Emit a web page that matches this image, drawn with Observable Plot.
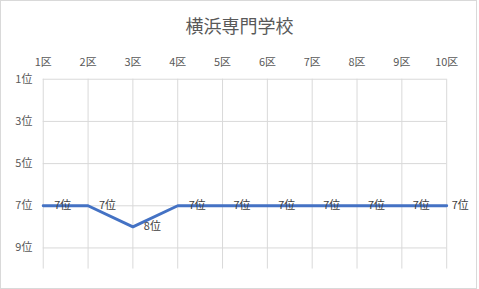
<!DOCTYPE html>
<html>
<head>
<meta charset="utf-8">
<script src="https://cdn.jsdelivr.net/npm/d3@7"></script>
<script src="https://cdn.jsdelivr.net/npm/@observablehq/plot@0.6"></script>
<style>
  html, body { margin: 0; padding: 0; background: #fff; }
  #wrap { position: relative; width: 477px; height: 289px; box-sizing: border-box; border: 1px solid #d9d9d9; overflow: hidden; }
  #title { position: absolute; left: 0; top: 0; width: 477px; height: 40px; line-height: 48px; text-align: center;
           font-family: "Noto Sans CJK JP", sans-serif; font-size: 18px; color: #595959; }
  #chart { position: absolute; left: -1px; top: 38px; }
</style>
</head>
<body>
<div id="wrap"><div id="title">横浜専門学校</div><div id="chart"></div></div>
<script>
const title = "横浜専門学校";
const sections = [1, 2, 3, 4, 5, 6, 7, 8, 9, 10];
const sectionLabels = ["1区", "2区", "3区", "4区", "5区", "6区", "7区", "8区", "9区", "10区"];
const ranks = [7, 7, 8, 7, 7, 7, 7, 7, 7, 7];
const rankTicks = [1, 3, 5, 7, 9];
const rankTickLabels = ["1位", "3位", "5位", "7位", "9位"];

const data = sections.map((s, i) => ({ s, r: ranks[i], label: ranks[i] + "位", last: i === sections.length - 1 }));
const font = "'Noto Sans CJK JP', sans-serif";

const chart = Plot.plot({
  width: 479,
  height: 250,
  marginTop: 40,
  marginLeft: 43,
  marginRight: 30,
  marginBottom: 19,
  style: { fontFamily: font, fontSize: "11px", color: "#595959", background: "transparent" },
  x: { type: "linear", domain: [1, 10] },
  y: { type: "linear", domain: [1, 10], reverse: true },
  marks: [
    Plot.ruleX(sections, { x: d => d, y1: 1, y2: 10, stroke: "#d9d9d9", strokeWidth: 1 }),
    Plot.ruleY(rankTicks, { y: d => d, x1: 1, x2: 10, stroke: "#d9d9d9", strokeWidth: 1 }),
    Plot.axisX(sections, { anchor: "top", tickSize: 0, tickPadding: 13, tickFormat: (d, i) => sectionLabels[i], label: null, fill: "#595959" }),
    Plot.axisY(rankTicks, { anchor: "left", tickSize: 0, tickPadding: 11, tickFormat: (d, i) => rankTickLabels[i], label: null, fill: "#595959" }),
    Plot.line(data, { x: "s", y: "r", stroke: "#4472C4", strokeWidth: 3, strokeLinejoin: "miter" }),
    Plot.text(data.filter(d => !d.last), { x: "s", y: "r", text: "label", textAnchor: "start", dx: 11, fill: "#404040" }),
    Plot.text(data.filter(d => d.last), { x: "s", y: "r", text: "label", textAnchor: "start", dx: 5, fill: "#404040" })
  ]
});
document.getElementById("chart").appendChild(chart);
</script>
</body>
</html>
